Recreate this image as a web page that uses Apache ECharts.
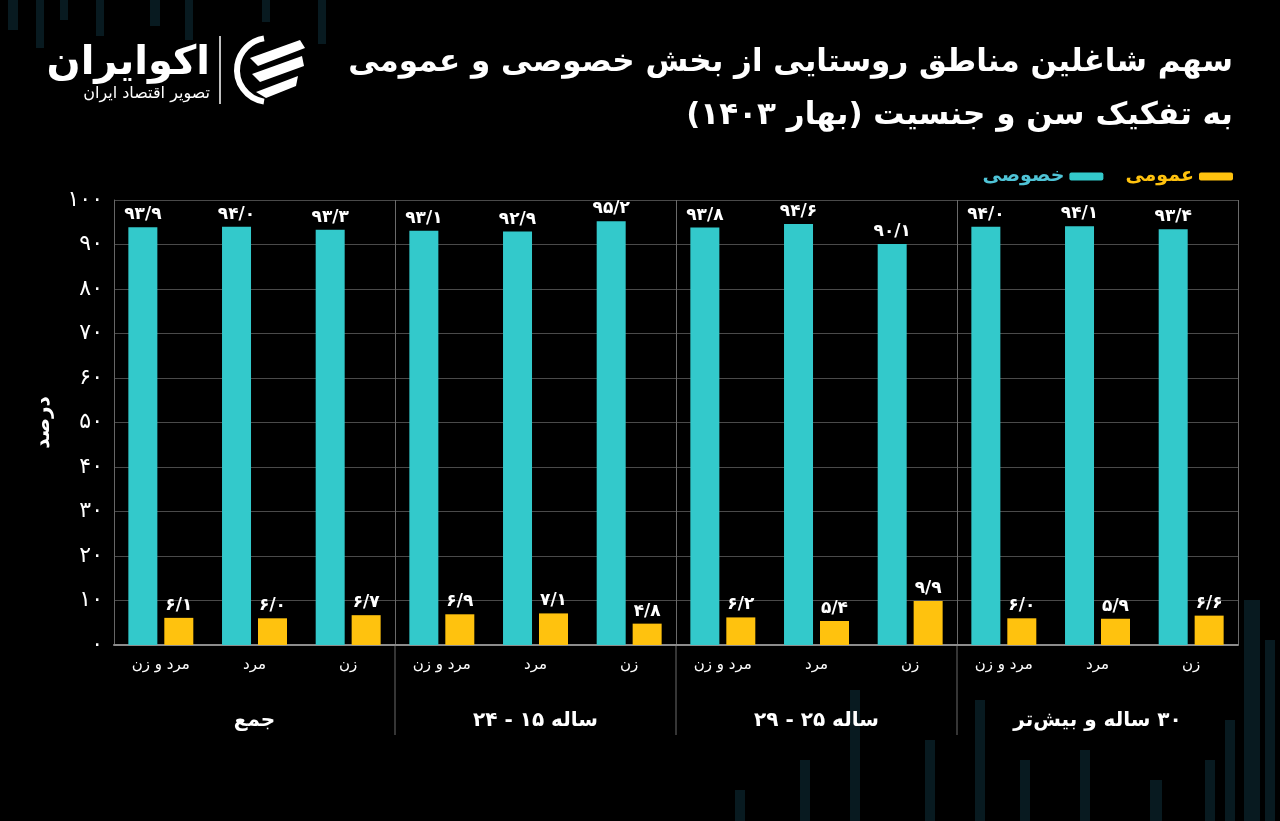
<!DOCTYPE html>
<html dir="rtl">
<head>
<meta charset="utf-8">
<script src="https://cdn.jsdelivr.net/npm/echarts@6/dist/echarts.min.js"></script>
<style>
html,body{margin:0;padding:0;background:#000;}
#c{width:1280px;height:821px;}
</style>
</head>
<body>
<div id="c"></div>
<script>
// ---- data ----
const categories = ['مرد و زن','مرد','زن','مرد و زن','مرد','زن','مرد و زن','مرد','زن','مرد و زن','مرد','زن'];
const groups = ['جمع','ساله ۱۵ - ۲۴','ساله ۲۵ - ۲۹','۳۰ ساله و بیش‌تر'];
const privateShare = [93.9, 94.0, 93.3, 93.1, 92.9, 95.2, 93.8, 94.6, 90.1, 94.0, 94.1, 93.4];
const publicShare  = [6.1, 6.0, 6.7, 6.9, 7.1, 4.8, 6.2, 5.4, 9.9, 6.0, 5.9, 6.6];
const seriesNames = ['خصوصی','عمومی'];
const yTicks = [0,10,20,30,40,50,60,70,80,90,100];
const titleLine1 = 'سهم شاغلین مناطق روستایی از بخش خصوصی و عمومی';
const titleLine2 = 'به تفکیک سن و جنسیت (بهار ۱۴۰۳)';
const yName = 'درصد';

const FA = '۰۱۲۳۴۵۶۷۸۹';
function faDigits(s){ return String(s).replace(/[0-9]/g, d => FA[+d]); }
function faNum(v){ return faDigits(v.toFixed(1).replace('.', '/')); }

const CYAN = '#33c9cb';
const YELLOW = '#ffc20e';
const FONT = 'DejaVu Sans';
const GRID_C = '#4a4a4a';

const chart = echarts.init(document.getElementById('c'), null, {renderer:'canvas'});

// decorative faint background bars
const bgBars = [
  [8,0,10,30],[36,0,8,48],[60,0,8,20],[96,0,8,36],[150,0,10,26],[185,0,8,40],[262,0,8,22],[318,0,8,44],
  [1244,600,16,221],[1225,720,10,101],[1205,760,10,61],[1150,780,12,41],[1080,750,10,71],[1020,760,10,61],
  [975,700,10,121],[925,740,10,81],[850,690,10,131],[800,760,10,61],[735,790,10,31],[1265,640,10,181]
];
const deco = bgBars.map(b => ({type:'rect', silent:true, z:-10, shape:{x:b[0],y:b[1],width:b[2],height:b[3]}, style:{fill:'#081a20'}}));

const logo = [
  {type:'text', x:210, y:64, style:{text:'اکوایران', fill:'#fff', font:'bold 40px "DejaVu Sans"', align:'right', verticalAlign:'middle'}},
  {type:'text', x:210, y:94, style:{text:'تصویر اقتصاد ایران', fill:'#fff', font:'16px "DejaVu Sans"', align:'right', verticalAlign:'middle'}},
  {type:'line', shape:{x1:220,y1:36,x2:220,y2:104}, style:{stroke:'#fff', lineWidth:1.5}},
  {type:'arc', shape:{cx:269,cy:70,r:32,startAngle:Math.PI*0.55,endAngle:Math.PI*1.45}, style:{stroke:'#fff', lineWidth:6, fill:null}},
  {type:'polygon', shape:{points:[[250,58],[300,40],[305,48],[258,66]]}, style:{fill:'#fff'}},
  {type:'polygon', shape:{points:[[252,74],[302,56],[304,66],[260,82]]}, style:{fill:'#fff'}},
  {type:'polygon', shape:{points:[[256,92],[298,76],[296,86],[266,98]]}, style:{fill:'#fff'}}
];

const labelStyle = {show:true, position:'top', distance:4, color:'#fff', fontSize:17, fontWeight:'bold', fontFamily:FONT, formatter:p => faNum(p.value)};

chart.setOption({
  backgroundColor:'#000',
  textStyle:{fontFamily:FONT},
  title:[
    {text:titleLine1, right:42, top:42, textStyle:{color:'#fff', fontSize:31, fontWeight:'bold', fontFamily:FONT}},
    {text:titleLine2, right:42, top:95, textStyle:{color:'#fff', fontSize:31, fontWeight:'bold', fontFamily:FONT}}
  ],
  legend:{
    right:42, top:162, itemWidth:34, itemHeight:8, icon:'roundRect', itemGap:22, align:'right',
    data:[
      {name:seriesNames[0], textStyle:{color:'#4fc3d6'}},
      {name:seriesNames[1], textStyle:{color:YELLOW}}
    ],
    textStyle:{fontSize:19, fontWeight:'bold', fontFamily:FONT}
  },
  grid:{left:114, right:42, top:200, bottom:176},
  xAxis:[
    {type:'category', data:categories, gridIndex:0,
     axisLine:{show:true, lineStyle:{color:'#8c8c8c', width:2}},
     axisTick:{show:false},
     axisLabel:{color:'#fff', fontSize:15, margin:13, fontFamily:FONT}},
    {type:'value', min:0, max:groups.length, interval:1, gridIndex:0, position:'top',
     axisLine:{show:false}, axisTick:{show:false}, axisLabel:{show:false},
     splitLine:{show:true, lineStyle:{color:'#6a6a6a', width:1}}},
    {type:'category', data:groups, gridIndex:0, position:'bottom', offset:0,
     axisLine:{show:false}, axisTick:{show:false},
     axisLabel:{color:'#fff', fontSize:20, fontWeight:'bold', margin:66, fontFamily:FONT}}
  ],
  yAxis:{
    type:'value', min:0, max:100, interval:10,
    name:yName, nameLocation:'middle', nameGap:60, nameRotate:90,
    nameTextStyle:{color:'#fff', fontSize:20, fontWeight:'bold', fontFamily:FONT},
    axisLine:{show:true, lineStyle:{color:'#666'}},
    axisTick:{show:false},
    axisLabel:{color:'#fff', fontSize:22, margin:11, fontFamily:FONT, formatter:v => faDigits(v)},
    splitLine:{show:true, lineStyle:{color:GRID_C}}
  },
  series:[
    {name:seriesNames[0], type:'bar', data:privateShare, xAxisIndex:0, barWidth:29, barGap:'24%',
     itemStyle:{color:CYAN}, label:labelStyle},
    {name:seriesNames[1], type:'bar', data:publicShare, xAxisIndex:0, barWidth:29,
     itemStyle:{color:YELLOW}, label:labelStyle}
  ],
  graphic:deco.concat(logo)
});

// extend group separators below the axis
const y0 = chart.convertToPixel({yAxisIndex:0}, 0);
const seps = [];
for (let k = 1; k < groups.length; k++) {
  const x = chart.convertToPixel({xAxisIndex:1}, k);
  seps.push({type:'line', silent:true, shape:{x1:x, y1:y0, x2:x, y2:y0+90}, style:{stroke:'#6a6a6a', lineWidth:1}});
}
chart.setOption({graphic:deco.concat(logo).concat(seps)});
</script>
</body>
</html>
